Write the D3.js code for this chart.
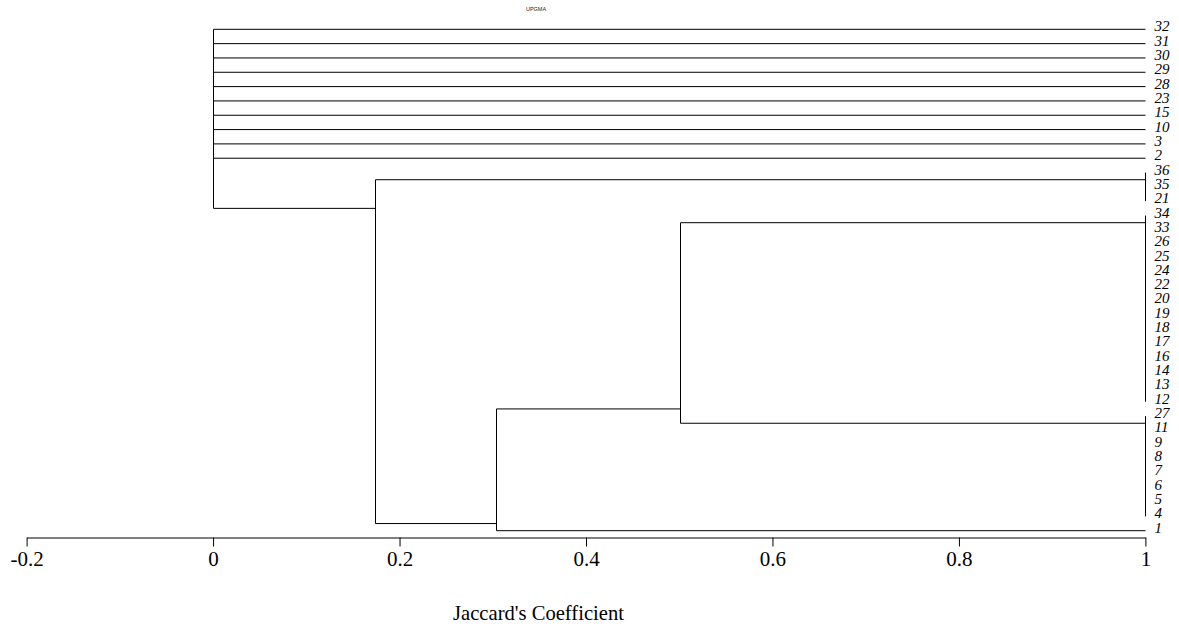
<!DOCTYPE html>
<html>
<head>
<meta charset="utf-8">
<script src="https://cdn.jsdelivr.net/npm/d3@7"></script>
<style>
  body { margin: 0; background: #fff; }
  svg { display: block; }
</style>
</head>
<body>
<script>
// Clusters (UPGMA on Jaccard similarity). Members listed top to bottom.
var clusterIds = ["g36", "g34", "g27", "n50", "n30", "n17", "root"];
var clusterHeight = [1, 1, 1, 0.501, 0.303, 0.174, 0];
var clusterMembers = [
	["36", "35", "21"],
	["34", "33", "26", "25", "24", "22", "20", "19", "18", "17", "16", "14", "13", "12"],
	["27", "11", "9", "8", "7", "6", "5", "4"],
	["g34", "g27"],
	["n50", "1"],
	["g36", "n30"],
	["32", "31", "30", "29", "28", "23", "15", "10", "3", "2", "n17"]
];

var tickValues = [-0.2, 0, 0.2, 0.4, 0.6, 0.8, 1];
var tickLabels = ["-0.2", "0", "0.2", "0.4", "0.6", "0.8", "1"];

var w = 1179;
var h = 631;

var svg = d3.select("body").
append("svg").
attr("width", w).
attr("height", h);

// Turn each cluster into a chain of binary merges at the same height
function expand(id) {
	var i = clusterIds.indexOf(id);
	if (i < 0) return {name: id, h: 1};
	var kids = clusterMembers[i].map(expand);
	var node = kids[kids.length - 1];
	for (var k = kids.length - 2; k >= 0; k--) {
		node = {h: clusterHeight[i], children: [kids[k], node]};
	}
	return node;
}

var root = d3.hierarchy(expand("root"));
var leaves = root.leaves();

var x = d3.scaleLinear().domain([-0.2, 1]).range([26.6, 1145.4]);
var y = d3.scaleLinear().domain([0, leaves.length - 1]).range([29.3, 530.7]);

leaves.forEach(function (d, i) {d.y = y(i);});

// node sits between the last leaf of its upper child and the first leaf of its lower child
root.eachAfter(function (d) {
	if (!d.children) return;
	var up = d.children[0].leaves();
	var down = d.children[1].leaves();
	d.y = (up[up.length - 1].y + down[0].y) / 2;
});

var g = svg.append("g").attr("class", "tree");
var segs = [];
root.each(function (d) {
	if (!d.children) return;
	var xn = x(d.data.h);
	segs.push([xn, d.children[0].y, xn, d.children[1].y]);
	d.children.forEach(function (c) {
		var xc = x(c.data.h);
		if (xc - xn > 0.5) segs.push([xn, c.y, xc, c.y]);
	});
});

g.selectAll("line").
data(segs).
enter().append("line").
attr("x1", function (d) {return Math.round(d[0]) + 0.5;}).
attr("y1", function (d) {return d[1];}).
attr("x2", function (d) {return Math.round(d[2]) + 0.5;}).
attr("y2", function (d) {return d[3];}).
style("stroke", "#000").
style("stroke-width", 1);

// leaf labels
svg.append("g").
selectAll("text").
data(leaves).
enter().append("text").
attr("x", 1154.5).
attr("y", function (d) {return d.y + 2;}).
text(function (d) {return d.data.name;}).
style("font-family", "'Liberation Serif', 'Times New Roman', serif").
style("font-style", "italic").
style("font-size", "15px").
style("fill", "#000");

// x axis
var axis = svg.append("g").
attr("transform", "translate(0,537.5)").
call(d3.axisBottom(x).
	tickValues(tickValues).
	tickFormat(function (d, i) {return tickLabels[i];}).
	tickSize(9).
	tickSizeOuter(0).
	tickPadding(5));

axis.select(".domain").style("stroke", "#000");
axis.selectAll(".tick line").style("stroke", "#000");
axis.selectAll(".tick text").
style("font-family", "'Liberation Serif', 'Times New Roman', serif").
style("font-size", "21px").
style("fill", "#000");

svg.append("text").
attr("x", 538.5).
attr("y", 620).
attr("text-anchor", "middle").
text("Jaccard's Coefficient").
style("font-family", "'Liberation Serif', 'Times New Roman', serif").
style("font-size", "20.6px").
style("fill", "#000");

svg.append("text").
attr("x", 536).
attr("y", 11.3).
attr("text-anchor", "middle").
text("UPGMA").
style("font-family", "'Liberation Sans', Arial, sans-serif").
style("font-size", "5.5px").
style("fill", "#222");
</script>
</body>
</html>
